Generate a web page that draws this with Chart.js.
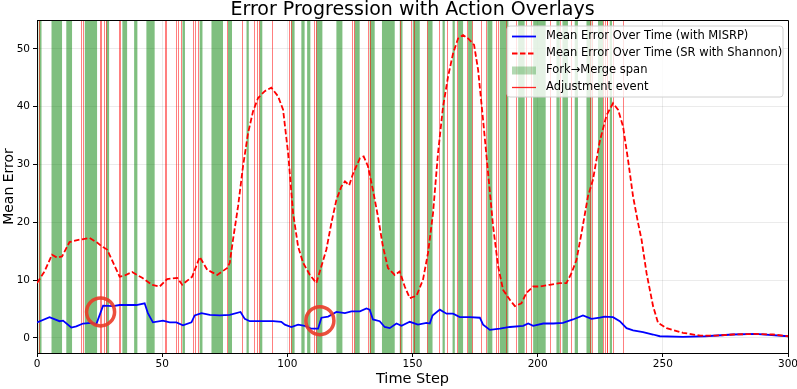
<!DOCTYPE html>
<html>
<head>
<meta charset="utf-8">
<script src="https://cdn.jsdelivr.net/npm/chart.js@4.4.1/dist/chart.umd.min.js"></script>
<style>
  html, body { margin: 0; padding: 0; background: #fff; }
  canvas { display: block; }
</style>
</head>
<body>
<canvas id="myChart" width="797" height="389"></canvas>
<script>
// Mean error, MISRP run (time step, value)
const misrpSteps = [0, 5, 9, 10.4, 13.7, 15.7, 18.4, 21.7, 23.7, 26.4, 30.4, 33, 37, 39.7, 43, 44.3, 46.3, 50.3, 53, 55.7,
  58.3, 61.7, 63, 65.7, 69, 73, 77, 81.3, 83, 85, 89, 94.3, 97.6, 99, 101.6, 104.3, 107, 109.6, 112.3, 113.6,
  116.3, 119.6, 123, 125.6, 129, 131.6, 132.9, 134.2, 136.9, 138.9, 140.9, 143.6, 145.6, 148.9, 152.2, 155.6, 156.9, 158, 160.9, 163.6,
  166.2, 168.9, 172.9, 176.9, 178.2, 180.9, 184.9, 188.9, 194.2, 196.2, 198.2, 202.2, 206.2, 210.1, 214.1, 218.1, 221.5, 224.8, 226.8, 230.1,
  232.8, 235.5, 238.1, 242.1, 246.1, 248.8, 258, 267, 278, 287, 300]
const misrpValues = [2.7, 3.6, 2.9, 3.0, 1.8, 2.0, 2.5, 2.6, 2.4, 5.6, 5.5, 5.7, 5.7, 5.7, 6.0, 4.3, 2.7, 3.0, 2.7, 2.7,
  2.2, 2.7, 3.9, 4.3, 4.0, 3.9, 4.0, 4.5, 3.3, 2.9, 2.9, 2.9, 2.8, 2.3, 1.9, 2.3, 2.1, 1.6, 1.6, 3.5,
  3.7, 4.5, 4.3, 4.6, 4.6, 5.1, 4.9, 3.2, 2.9, 1.9, 1.7, 2.5, 2.1, 2.8, 2.3, 2.6, 2.5, 3.9, 4.9, 4.2,
  4.2, 3.6, 3.6, 3.5, 2.3, 1.4, 1.6, 1.9, 2.1, 2.5, 2.1, 2.5, 2.5, 2.6, 3.2, 3.9, 3.3, 3.5, 3.7, 3.6,
  2.9, 1.7, 1.3, 1.0, 0.6, 0.3, 0.2, 0.3, 0.6, 0.7, 0.3]

// Mean error, SR with Shannon run
const shannonSteps = [0, 3, 6, 8, 10, 13, 17, 21, 24, 26, 28, 33, 35, 38, 42, 46, 49, 52, 56, 58,
  62, 65, 68, 72, 76, 77, 78.3, 80.3, 82.3, 84.3, 86.3, 88.3, 91, 93.6, 96.3, 98.3, 100.3, 102.3, 104.3, 106.3,
  109, 111.6, 113.6, 115.6, 117.6, 119.6, 121.6, 123, 124.7, 126.3, 129, 130.5, 132.2, 134.2, 136.2, 138.2, 140.2, 142.9, 144.9, 146.9,
  148.9, 151.6, 154.2, 156.2, 158.2, 160.2, 162.2, 164.2, 166.2, 168.2, 170.2, 172.2, 174.6, 176.2, 178.2, 180.2, 182.2, 184.2, 186.2, 188.9,
  190.9, 193.5, 195.5, 198.2, 200.8, 204.8, 208.8, 211.5, 213.5, 215.5, 217.5, 220.1, 222.1, 224.8, 227.5, 230.1, 232.1, 234.1, 236.1, 238.1,
  240.1, 241.5, 243.5, 246.1, 248.1, 251.5, 258, 265, 271, 278, 287, 294, 300]
const shannonValues = [9.5, 11.5, 14.4, 13.9, 14.1, 16.6, 17.0, 17.3, 16.5, 15.8, 15.3, 10.6, 10.8, 11.4, 10.4, 9.2, 8.9, 10.2, 10.4, 9.2,
  10.6, 14.0, 11.8, 10.9, 12.1, 13.0, 17.0, 22.7, 29.7, 35.4, 39.2, 41.5, 42.7, 43.3, 41.8, 39.5, 32.0, 21.6, 15.8, 13.0,
  10.9, 9.5, 12.4, 15.3, 19.9, 23.9, 26.2, 27.1, 26.4, 28.5, 31.1, 31.4, 29.7, 25.6, 21.0, 15.8, 12.1, 10.9, 11.5, 8.9,
  6.9, 7.3, 10.1, 14.7, 21.6, 32.0, 40.0, 45.2, 49.2, 51.8, 52.4, 51.8, 50.7, 46.4, 37.7, 28.5, 19.3, 12.4, 8.3, 6.6,
  5.5, 6.0, 7.8, 8.9, 8.9, 9.2, 9.5, 9.5, 11.2, 13.5, 18.1, 24.5, 27.4, 34.0, 38.5, 40.6, 39.5, 36.6, 30.8, 24.5,
  19.9, 17.0, 11.2, 5.5, 2.6, 1.7, 0.9, 0.4, 0.4, 0.6, 0.7, 0.6, 0.3]

// Fork -> Merge spans [start, end]
const forkStarts = [0.7, 5.8, 11.7, 19.1, 27.7, 34.1, 38.8, 43.7, 58.1, 65.0, 69.7, 76.3, 83.7, 89.0, 101.6, 105.6, 107.9, 111.6, 119.6, 126.9,
  132.9, 137.8, 144.9, 150.2, 156.0, 162.0, 166.0, 168.2, 172.2, 179.9, 184.9, 192.2, 198.2, 207.5, 209.9, 214.8, 219.5, 224.1, 228.8]
const forkEnds = [1.8, 10.0, 14.0, 24.0, 28.8, 36.0, 40.1, 47.0, 59.1, 66.1, 74.3, 77.9, 84.6, 90.0, 102.9, 106.9, 109.2, 114.0, 122.0, 128.9,
  134.9, 142.9, 146.0, 152.9, 158.0, 162.9, 166.9, 170.2, 173.9, 181.9, 188.3, 194.8, 203.2, 208.8, 212.1, 216.1, 221.5, 226.1, 229.7]

// adjustment events (time steps)
const adjustSteps = [0.8, 17.7, 18.4, 25.0, 25.7, 26.6, 27.4, 32.8, 33.3, 51.0, 51.7, 55.7, 56.3, 57.7, 62.3, 63.0, 64.3, 75.9, 81.9, 86.7,
  87.7, 88.7, 94.0, 100.7, 101.4, 110.7, 111.6, 125.8, 126.6, 132.2, 132.9, 144.9, 149.6, 150.5, 155.8, 160.6, 163.8, 167.6, 171.8, 173.6,
  177.3, 179.3, 183.3, 184.1, 187.5, 191.3, 195.5, 197.5, 204.8, 209.1, 213.5, 220.8, 221.9, 226.2, 226.8, 227.5, 227.8, 230.0, 234.0]

// highlighted spots
const markSteps = [25.4, 113]
const markValues = [4.5, 3.0]

const xTicks = [0, 50, 100, 150, 200, 250, 300]
const yTicks = [0, 10, 20, 30, 40, 50]

const legendLabels = ['Mean Error Over Time (with MISRP)', 'Mean Error Over Time (SR with Shannon)', 'Fork\u2192Merge span', 'Adjustment event']

const toPoints = (xs, ys) => xs.map((x, i) => ({ x: x, y: ys[i] }))

const overlays = {
  id: 'overlays',
  beforeDatasetsDraw(chart) {
    const { ctx, chartArea: a, scales: { x } } = chart
    ctx.save()
    ctx.beginPath()
    ctx.rect(a.left, a.top, a.right - a.left, a.bottom - a.top)
    ctx.clip()
    ctx.fillStyle = 'rgba(0,128,0,0.5)'
    forkStarts.forEach((s, i) => {
      const x0 = x.getPixelForValue(s)
      const x1 = x.getPixelForValue(forkEnds[i])
      ctx.fillRect(x0, a.top, x1 - x0, a.bottom - a.top)
    })
    ctx.strokeStyle = 'rgba(255,0,0,0.5)'
    ctx.lineWidth = 1
    adjustSteps.forEach(s => {
      const px = Math.round(x.getPixelForValue(s)) + 0.5
      ctx.beginPath()
      ctx.moveTo(px, a.top)
      ctx.lineTo(px, a.bottom)
      ctx.stroke()
    })
    ctx.restore()
  },
  afterDraw(chart) {
    const { ctx, chartArea: a } = chart
    ctx.save()
    // top + right spines
    ctx.strokeStyle = '#000'
    ctx.lineWidth = 1
    ctx.beginPath()
    ctx.moveTo(a.left, a.top + 0.5)
    ctx.lineTo(a.right + 0.5, a.top + 0.5)
    ctx.lineTo(a.right + 0.5, a.bottom)
    ctx.stroke()

    // title
    ctx.fillStyle = '#000'
    ctx.font = '19px "DejaVu Sans"'
    ctx.textAlign = 'center'
    ctx.textBaseline = 'middle'
    ctx.fillText('Error Progression with Action Overlays', (a.left + a.right) / 2, 10)

    // legend box
    const bx = 507, by = 26, bw = 276, bh = 71, r = 3
    ctx.beginPath()
    ctx.moveTo(bx + r, by)
    ctx.arcTo(bx + bw, by, bx + bw, by + bh, r)
    ctx.arcTo(bx + bw, by + bh, bx, by + bh, r)
    ctx.arcTo(bx, by + bh, bx, by, r)
    ctx.arcTo(bx, by, bx + bw, by, r)
    ctx.closePath()
    ctx.fillStyle = 'rgba(255,255,255,0.8)'
    ctx.fill()
    ctx.strokeStyle = '#d0d0d0'
    ctx.lineWidth = 1
    ctx.stroke()

    const rows = [36.5, 53.5, 70.5, 87.5]
    const hx0 = 512, hx1 = 536
    ctx.lineWidth = 1.8
    ctx.strokeStyle = '#0000ff'
    ctx.beginPath(); ctx.moveTo(hx0, rows[0]); ctx.lineTo(hx1, rows[0]); ctx.stroke()
    ctx.strokeStyle = '#ff0000'
    ctx.setLineDash([5.5, 2.5])
    ctx.beginPath(); ctx.moveTo(hx0, rows[1]); ctx.lineTo(hx1, rows[1]); ctx.stroke()
    ctx.setLineDash([])
    ctx.fillStyle = 'rgba(0,128,0,0.3)'
    ctx.fillRect(hx0, rows[2] - 4, hx1 - hx0, 8)
    ctx.strokeStyle = 'rgba(255,0,0,0.85)'
    ctx.lineWidth = 1.3
    ctx.beginPath(); ctx.moveTo(hx0, rows[3]); ctx.lineTo(hx1, rows[3]); ctx.stroke()

    ctx.fillStyle = '#000'
    ctx.font = '11.5px "DejaVu Sans"'
    ctx.textAlign = 'left'
    legendLabels.forEach((t, i) => ctx.fillText(t, 546, rows[i]))
    ctx.restore()
  }
}

Chart.defaults.font.family = '"DejaVu Sans", sans-serif'
Chart.defaults.color = '#000'

const ctx = document.getElementById('myChart')
const myChart = new Chart(ctx, {
  type: 'line',
  data: {
    datasets: [
      {
        label: 'marks',
        data: toPoints(markSteps, markValues),
        showLine: false,
        pointRadius: 14,
        pointBorderWidth: 3.5,
        pointBorderColor: 'rgba(234,60,40,0.9)',
        pointBackgroundColor: 'rgba(0,0,0,0)',
        order: 0
      },
      {
        label: legendLabels[1],
        data: toPoints(shannonSteps, shannonValues),
        borderColor: '#ff0000',
        borderWidth: 1.8,
        borderDash: [5.5, 2.5],
        pointRadius: 0,
        order: 1
      },
      {
        label: legendLabels[0],
        data: toPoints(misrpSteps, misrpValues),
        borderColor: '#0000ff',
        borderWidth: 1.8,
        pointRadius: 0,
        order: 2
      }
    ]
  },
  options: {
    responsive: false,
    animation: false,
    layout: { autoPadding: false, padding: { top: 20, right: 9, left: 0, bottom: 0 } },
    plugins: {
      legend: { display: false },
      title: { display: false },
      tooltip: { enabled: false }
    },
    scales: {
      x: {
        type: 'linear',
        min: 0,
        max: 300,
        afterBuildTicks: s => { s.ticks = xTicks.map(v => ({ value: v })) },
        afterFit: s => { s.height = 36; s.paddingRight = 0; s.paddingLeft = 0 },
        ticks: { font: { size: 10.5 }, padding: 1, maxRotation: 0 },
        grid: { color: 'rgba(0,0,0,0.08)', tickLength: 4, tickColor: '#000' },
        border: { color: '#000', width: 1 },
        title: { display: true, text: 'Time Step', font: { size: 14.5 }, padding: { top: 0, bottom: 1 } }
      },
      y: {
        min: -2.6,
        max: 55,
        afterBuildTicks: s => { s.ticks = yTicks.map(v => ({ value: v })) },
        afterFit: s => { s.width = 37 },
        ticks: { font: { size: 10.5 }, padding: 3 },
        grid: { color: 'rgba(0,0,0,0.08)', tickLength: 4, tickColor: '#000' },
        border: { color: '#000', width: 1 },
        title: { display: true, text: 'Mean Error', font: { size: 14 }, padding: { top: 1, bottom: 0 } }
      }
    }
  },
  plugins: [overlays]
})
</script>
</body>
</html>
